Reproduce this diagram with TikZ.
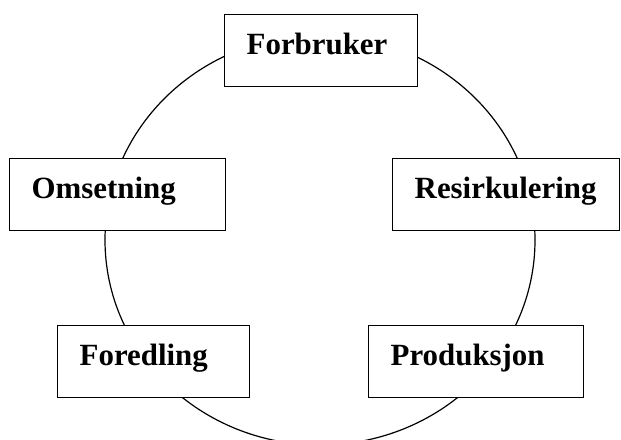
\documentclass[tikz,border=0pt]{standalone}
\usepackage{fontspec}
\setmainfont{Liberation Serif}
\begin{document}
\begin{tikzpicture}[x=1bp,y=-1bp,
  stagebox/.style={draw, line width=1.4bp, fill=white, anchor=north west,
    minimum height=72bp, text height=22bp, text depth=14bp,
    inner xsep=22bp, inner ysep=0pt, align=left,
    font=\fontsize{31}{36}\selectfont\bfseries}]
\useasboundingbox (0,0) rectangle (621,440);
\draw[line width=1.2bp] (320,240) ellipse [x radius=215bp, y radius=205bp];
\node[stagebox, text width=149bp] (forbruker) at (224,14) {Forbruker};
\node[stagebox, text width=172bp] (omsetning) at (9,158) {Omsetning};
\node[stagebox, text width=183bp] (resirk) at (392,158) {Resirkulering};
\node[stagebox, text width=148bp] (foredling) at (57,325) {Foredling};
\node[stagebox, text width=171bp] (produksjon) at (368,325) {Produksjon};
\end{tikzpicture}
\end{document}
